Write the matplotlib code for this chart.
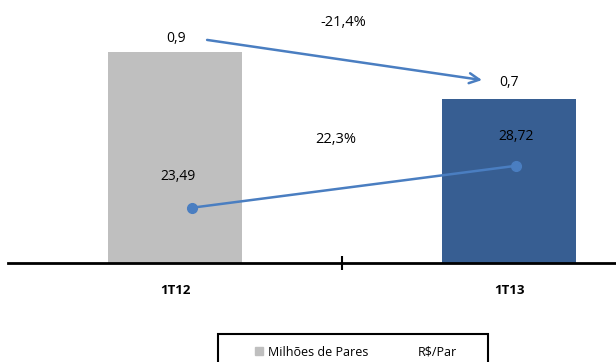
import matplotlib.pyplot as plt
from matplotlib.lines import Line2D
from matplotlib.patches import Rectangle

plt.rcParams['font.family'] = ['Open Sans', 'DejaVu Sans']

periodos = ['1T12', '1T13']
pares = [0.9, 0.7]
preco_par = [23.49, 28.72]
rotulos_pares = ['0,9', '0,7']
rotulos_preco = ['23,49', '28,72']
var_pares = '-21,4%'
var_preco = '22,3%'

cor_barras = ['#BFBFBF', '#375E92']
cor_linha = '#4A7EC1'

W, H = 616, 362
fig = plt.figure(figsize=(W / 100, H / 100), dpi=100)
ax = fig.add_axes([8 / W, 1 - 263 / H, 608 / W, 263 / H])
x = [0, 1]

ax.bar(x, pares, width=0.4, color=cor_barras, zorder=2)
ax.set_xlim(-0.5, 1.32)
ax.set_ylim(0, 1.12)

for spine in ['top', 'left', 'right']:
    ax.spines[spine].set_visible(False)
ax.spines['bottom'].set_linewidth(2)
ax.set_yticks([])
ax.set_xticks(x)
ax.set_xticklabels(periodos, fontweight='bold', fontsize=9.5)
ax.tick_params(axis='x', which='major', length=0, pad=15)
ax.set_xticks([0.5], minor=True)
ax.tick_params(axis='x', which='minor', length=10, width=1.5, direction='inout')

ax.text(0.003, 0.958, rotulos_pares[0], ha='center', va='center', fontsize=10)
ax.text(1.0, 0.767, rotulos_pares[1], ha='center', va='center', fontsize=10)

# linha do preço médio no eixo secundário
ax2 = ax.twinx()
x_linha = [0.05, 1.02]
ax2.plot(x_linha, preco_par, color=cor_linha, lw=1.8, marker='o', ms=7, zorder=3)
ax2.set_ylim(16.6, 49.4)
ax2.axis('off')
ax2.text(0.01, preco_par[0] + 3.86, rotulos_preco[0], ha='center', va='center', fontsize=10)
ax2.text(1.02, preco_par[1] + 3.6, rotulos_preco[1], ha='center', va='center', fontsize=10)

# variação percentual entre os períodos
ax.annotate('', xy=(0.919, 0.779), xytext=(0.096, 0.950),
            arrowprops=dict(arrowstyle='->', color=cor_linha, lw=1.8,
                            mutation_scale=18, shrinkA=0, shrinkB=0))
ax.text(0.503, 1.026, var_pares, ha='center', va='center', fontsize=10.5)
ax.text(0.482, 0.528, var_preco, ha='center', va='center', fontsize=10.5)

# legenda com moldura própria
fig.patches.append(Rectangle((218 / W, -0.05), 270 / W, (H - 334) / H + 0.05,
                             transform=fig.transFigure, fill=False,
                             edgecolor='black', lw=1.5))
handles = [Line2D([], [], ls='none', marker='s', ms=5.5, color=cor_barras[0]),
           Line2D([], [], ls='none')]
fig.legend(handles, ['Milhões de Pares', 'R$/Par'], ncol=2,
           loc='center left', bbox_to_anchor=(252.75 / W, 1 - 352 / H),
           frameon=False, fontsize=9, handlelength=1.0, handletextpad=0.22,
           columnspacing=2.7, borderpad=0, borderaxespad=0)

fig.savefig('out.png', dpi=100)
